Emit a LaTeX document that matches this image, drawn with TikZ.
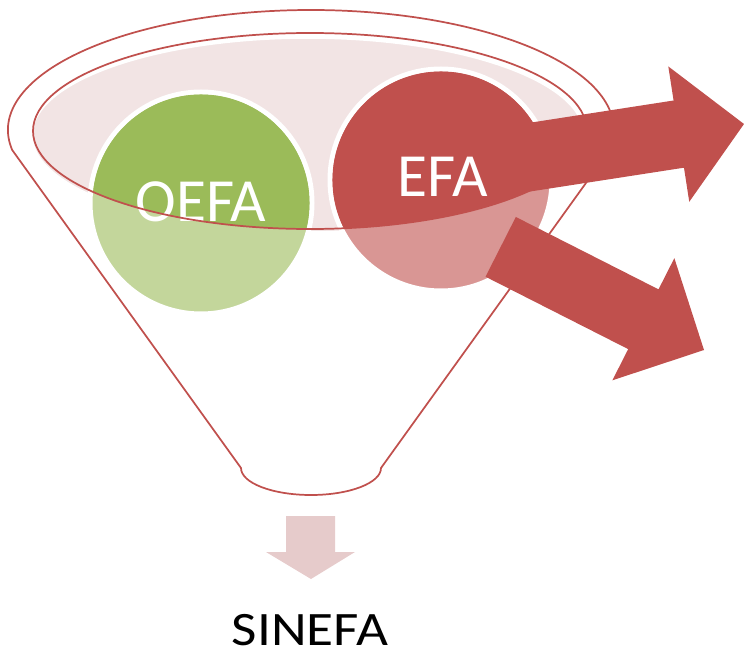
\documentclass[tikz,border=0pt]{standalone}
\usepackage{fontspec}
\setmainfont{Carlito}
\definecolor{fred}{HTML}{C0504D}
\definecolor{lred}{HTML}{D99694}
\definecolor{fgreen}{HTML}{9BBB59}
\definecolor{lgreen}{HTML}{C3D69B}
\definecolor{fpink}{HTML}{F2E4E4}
\definecolor{apink}{HTML}{E6CBCB}
\begin{document}
\begin{tikzpicture}[x=0.75pt,y=-0.75pt,
  rim/.style={draw=fred,line width=1.3pt},
  bubble/.style={circle,draw=white,line width=3.75pt,minimum size=166.5pt,inner sep=0pt},
  lbl/.style={text=white,font=\fontsize{46}{55}\selectfont,inner sep=0pt},
  bigarrow/.style={fill=fred}]
\useasboundingbox (0,0) rectangle (744,653);
% funnel outline
\draw[rim] (241,468) -- (12.2,150)
  arc[start angle=170.4,end angle=369.6,x radius=303,y radius=120]
  -- (381,468) arc[start angle=0,end angle=180,x radius=70,y radius=27] -- cycle;
% pink top
\fill[fpink,draw=white,line width=1.2pt] (308,135) ellipse[x radius=276,y radius=97];
% circles (lower, lighter part)
\node[bubble,fill=lgreen] (oefa) at (201,203) {};
\node[bubble,fill=lred] (efa) at (441,180) {};
% upper part inside the funnel top
\begin{scope}
  \clip (310,131) ellipse[x radius=277,y radius=98];
  \fill[fgreen] (oefa.center) circle[radius=81.4pt];
  \fill[fred] (efa.center) circle[radius=81.4pt];
\end{scope}
\node[lbl] (oefaT) at (201,202) {OEFA};
% inner ellipse outline
\draw[rim] (310,131) ellipse[x radius=277,y radius=98];
% big arrows
\begin{scope}[shift={(744,124)},rotate=8.8]
  \fill[bigarrow] (0,0) -- (-66,68.5) -- (-66,34) -- (-277,34) -- (-277,-34) -- (-66,-34) -- (-66,-68.5) -- cycle;
\end{scope}
\begin{scope}[shift={(704,350)},rotate=-26.9]
  \fill[bigarrow] (0,0) -- (-68,68.5) -- (-68,33.5) -- (-228,33.5) -- (-228,-33.5) -- (-68,-33.5) -- (-68,-68.5) -- cycle;
\end{scope}
\node[lbl] (efaT) at (443,177) {EFA};
% output arrow
\fill[apink] (286,516) -- (335,516) -- (335,552) -- (355,552) -- (311,579) -- (266,552) -- (286,552) -- cycle;
\node[inner sep=0pt,xscale=1.15,font=\fontsize{36}{43}\selectfont] (sinefa) at (310,630) {SINEFA};
\end{tikzpicture}
\end{document}
